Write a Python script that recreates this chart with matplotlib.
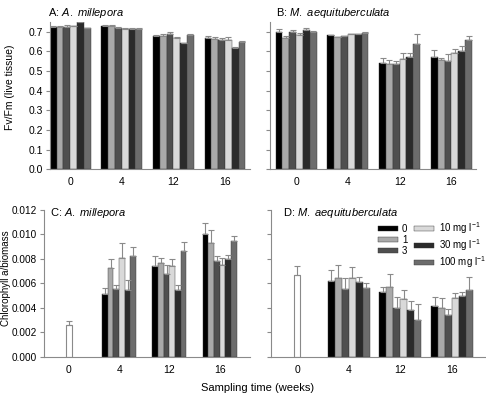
import matplotlib.pyplot as plt
import numpy as np

plt.rcParams['font.family'] = ['Liberation Sans', 'DejaVu Sans']
plt.rcParams['font.size'] = 7.5
plt.rcParams['mathtext.fontset'] = 'custom'
plt.rcParams['mathtext.rm'] = 'Liberation Sans'
plt.rcParams['mathtext.it'] = 'Liberation Sans:italic'

weeks = ['0', '4', '12', '16']
treatments = ['0', '1', '3', '10 mg l$^{-1}$', '30 mg l$^{-1}$', '100 mg l$^{-1}$']
colors = ['#000000', '#a9a9a9', '#4f4f4f', '#d9d9d9', '#2b2b2b', '#6c6c6c']

# Fv/Fm, rows = treatment, cols = week
fv_mill = [
    [0.725, 0.730, 0.680, 0.670],
    [0.725, 0.727, 0.680, 0.665],
    [0.725, 0.720, 0.690, 0.660],
    [0.727, 0.715, 0.668, 0.660],
    [0.747, 0.715, 0.640, 0.617],
    [0.717, 0.715, 0.685, 0.650],
]
fv_mill_err = [
    [0.005, 0.004, 0.005, 0.010],
    [0.004, 0.005, 0.006, 0.006],
    [0.010, 0.003, 0.010, 0.008],
    [0.003, 0.002, 0.003, 0.012],
    [0.004, 0.003, 0.004, 0.004],
    [0.003, 0.002, 0.005, 0.003],
]
fv_aeq = [
    [0.700, 0.681, 0.541, 0.573],
    [0.670, 0.671, 0.533, 0.557],
    [0.700, 0.678, 0.533, 0.553],
    [0.685, 0.686, 0.562, 0.592],
    [0.708, 0.686, 0.573, 0.604],
    [0.700, 0.695, 0.639, 0.658],
]
fv_aeq_err = [
    [0.015, 0.004, 0.024, 0.032],
    [0.010, 0.002, 0.022, 0.008],
    [0.008, 0.002, 0.020, 0.032],
    [0.010, 0.003, 0.028, 0.018],
    [0.012, 0.002, 0.017, 0.021],
    [0.003, 0.002, 0.051, 0.022],
]

# Chlorophyll a / biomass, weeks 4-16 (week 0 is a single initial sample)
chl_mill_init, chl_mill_init_err = 0.00259, 0.00036
chl_aeq_init, chl_aeq_init_err = 0.00671, 0.00068
chl_mill = [
    [0.00515, 0.00745, 0.01004],
    [0.00725, 0.00770, 0.00927],
    [0.00554, 0.00676, 0.00783],
    [0.00810, 0.00740, 0.00753],
    [0.00545, 0.00543, 0.00796],
    [0.00824, 0.00862, 0.00946],
]
chl_mill_err = [
    [0.00045, 0.00075, 0.00086],
    [0.00075, 0.00040, 0.00107],
    [0.00036, 0.00071, 0.00043],
    [0.00117, 0.00056, 0.00054],
    [0.00082, 0.00043, 0.00039],
    [0.00076, 0.00076, 0.00036],
]
chl_aeq = [
    [0.00622, 0.00529, 0.00415],
    [0.00641, 0.00567, 0.00398],
    [0.00554, 0.00401, 0.00344],
    [0.00641, 0.00472, 0.00477],
    [0.00608, 0.00387, 0.00494],
    [0.00562, 0.00300, 0.00548],
]
chl_aeq_err = [
    [0.00084, 0.00044, 0.00073],
    [0.00106, 0.00109, 0.00082],
    [0.00090, 0.00087, 0.00046],
    [0.00089, 0.00073, 0.00041],
    [0.00041, 0.00066, 0.00038],
    [0.00038, 0.00131, 0.00104],
]

fig = plt.figure(figsize=(4.86, 3.98), dpi=100)
axA = fig.add_axes([0.103, 0.575, 0.411, 0.370])
axB = fig.add_axes([0.556, 0.575, 0.424, 0.370])
axC = fig.add_axes([0.090, 0.103, 0.424, 0.370])
axD = fig.add_axes([0.558, 0.103, 0.440, 0.370])

errkw = dict(ecolor='#8a8a8a', elinewidth=0.8, capsize=2, capthick=0.8)


def style(ax):
    for s in ['top', 'right']:
        ax.spines[s].set_visible(False)
    for s in ['left', 'bottom']:
        ax.spines[s].set_color('#8a8a8a')
        ax.spines[s].set_linewidth(0.8)
    ax.tick_params(axis='y', length=3, width=0.8, color='#8a8a8a', pad=2)
    ax.tick_params(axis='x', length=0, pad=6)
    ax.set_xticks(np.arange(4))
    ax.set_xticklabels(weeks)


def fv_panel(ax, vals, errs, w, xlim):
    x = np.arange(4)
    for i in range(6):
        off = (i - 2.5) * w
        ax.bar(x + off, vals[i], w, color=colors[i], edgecolor='#333333', linewidth=0.3,
               yerr=[np.zeros(4), errs[i]], error_kw=errkw, zorder=2)
    ax.set_ylim(0, 0.75)
    ax.set_yticks(np.arange(0, 0.71, 0.1))
    ax.set_xlim(*xlim)
    style(ax)


def chl_panel(ax, init, init_err, vals, errs, w, xlim):
    x = np.arange(1, 4)
    ax.bar(0, init, 0.13, color='white', edgecolor='#8a8a8a', linewidth=0.8,
           yerr=[[0], [init_err]], error_kw=errkw, zorder=2)
    handles = []
    for i in range(6):
        off = (i - 2.5) * w
        b = ax.bar(x + off, vals[i], w, color=colors[i], edgecolor='#333333', linewidth=0.3,
                   yerr=[np.zeros(3), errs[i]], error_kw=errkw, zorder=2, label=treatments[i])
        handles.append(b)
    ax.set_ylim(0, 0.012)
    ax.set_yticks(np.arange(0, 0.0121, 0.002))
    ax.set_xlim(*xlim)
    style(ax)
    return handles


fv_panel(axA, fv_mill, fv_mill_err, 0.132, (-0.39, 3.48))
fv_panel(axB, fv_aeq, fv_aeq_err, 0.132, (-0.5, 3.48))
axB.set_yticklabels([])
chl_panel(axC, chl_mill_init, chl_mill_init_err, chl_mill, chl_mill_err, 0.113, (-0.5, 3.6))
axC.yaxis.set_major_formatter(plt.FormatStrFormatter('%.3f'))
axC.tick_params(axis='y', labelsize=7.2)
handles = chl_panel(axD, chl_aeq_init, chl_aeq_init_err, chl_aeq, chl_aeq_err, 0.135, (-0.5, 3.64))
axD.set_yticklabels([])

axA.set_yticklabels(['%.1f' % v for v in np.arange(0, 0.71, 0.1)])
fig.text(0.021, 0.78, 'Fv/Fm (live tissue)', rotation=90, ha='center', va='center', fontsize=7.5)
fig.text(0.013, 0.30, 'Chlorophyll a/biomass', rotation=90, ha='center', va='center', fontsize=7)

title_kw = dict(ha='left', va='center', fontsize=8)
fig.text(0.099, 0.968, r'A: $\mathit{A.\ millepora}$', **title_kw)
fig.text(0.568, 0.968, r'B: $\mathit{M.\ aequituberculata}$', **title_kw)
fig.text(0.103, 0.465, r'C: $\mathit{A.\ millepora}$', **title_kw)
fig.text(0.582, 0.465, r'D: $\mathit{M.\ aequituberculata}$', **title_kw)

fig.text(0.53, 0.025, 'Sampling time (weeks)', ha='center', va='center', fontsize=8)

fig.legend(handles=handles, ncol=2, loc='upper right', bbox_to_anchor=(0.999, 0.447),
           frameon=False, fontsize=7, handlelength=2.05, handleheight=0.45,
           columnspacing=0.7, handletextpad=0.45, labelspacing=0.12,
           borderaxespad=0, borderpad=0)

fig.savefig('out.png', dpi=100)
